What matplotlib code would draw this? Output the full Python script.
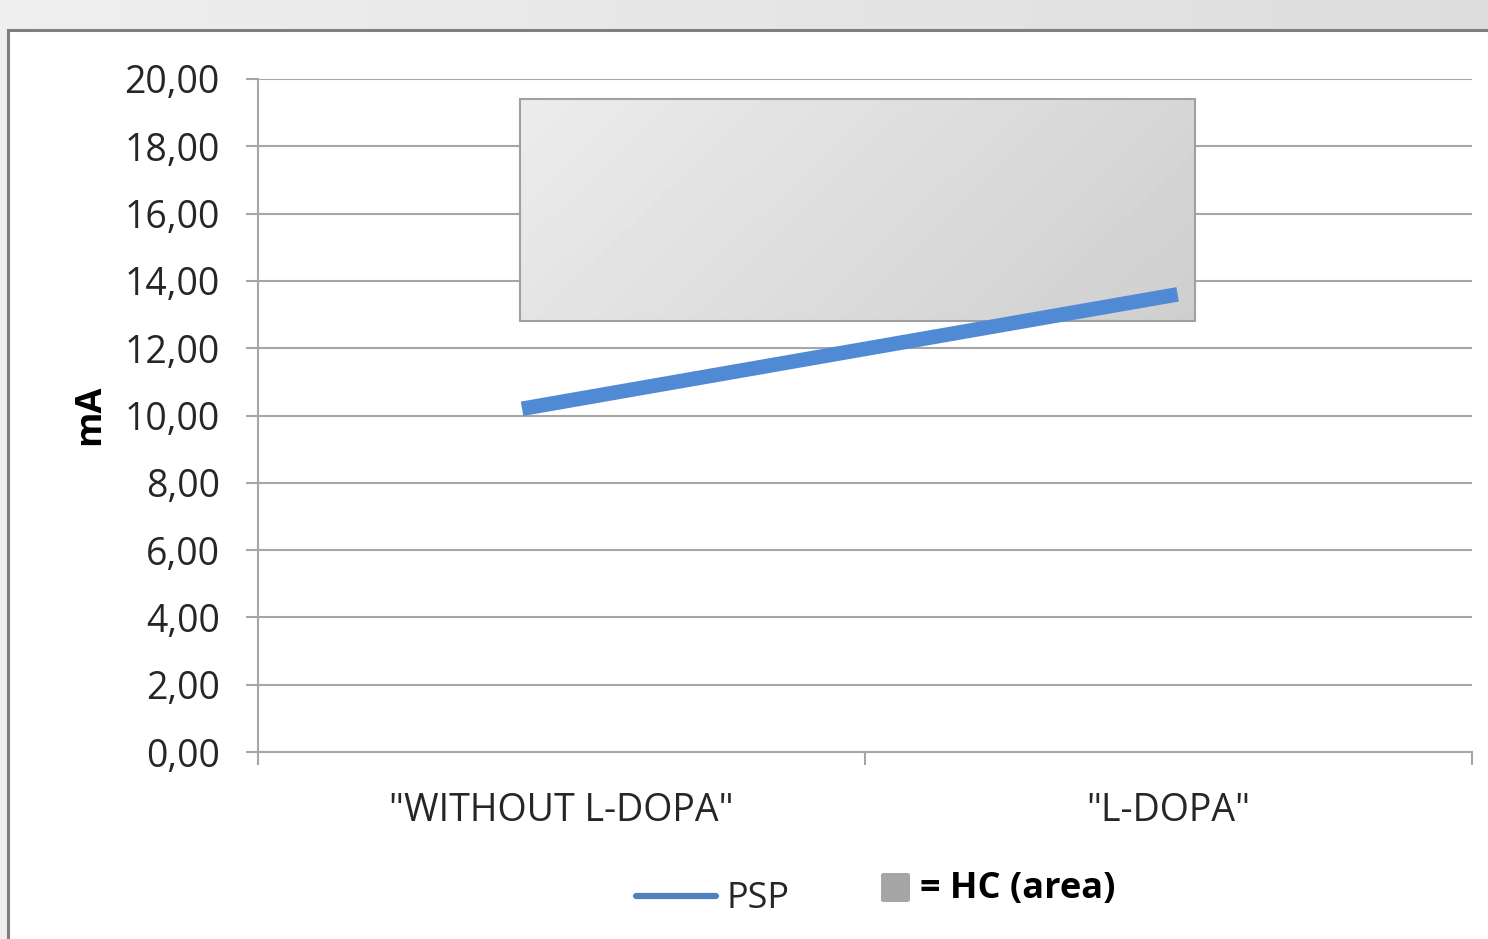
import numpy as np
import matplotlib
matplotlib.use("Agg")
import matplotlib.pyplot as plt
from matplotlib.patches import Rectangle, FancyBboxPatch
from matplotlib.lines import Line2D
from matplotlib.ticker import FuncFormatter, FixedLocator

plt.rcParams["font.family"] = ["Open Sans", "DejaVu Sans"]

# Data
categories = ['"WITHOUT L-DOPA"', '"L-DOPA"']
psp_values = [10.2, 13.6]
psp_x = [0.435, 1.515]          # x positions of the PSP line ends (category units)
hc_low, hc_high = 12.8, 19.4    # healthy-control range
hc_x = [0.432, 1.544]           # horizontal extent of the HC area
y_ticks = [0, 2, 4, 6, 8, 10, 12, 14, 16, 18, 20]

W, H = 1488, 939
fig = plt.figure(figsize=(W / 100, H / 100), dpi=100)

# Light grey backdrop with a soft gradient
bg = fig.add_axes([0, 0, 1, 1], zorder=-10)
gx = np.linspace(0, 1, 200)
grad = 0.935 - 0.07 * gx[None, :] * np.ones((10, 1))
bg.imshow(grad, cmap="gray", vmin=0, vmax=1, aspect="auto", extent=[0, 1, 0, 1])
bg.set_xlim(0, 1)
bg.set_ylim(0, 1)
bg.axis("off")
bg.add_patch(Rectangle((8 / W, -0.1), 1.2, (H - 30) / H + 0.1,
                       facecolor="white", edgecolor="#7f7f7f", linewidth=2.2,
                       transform=bg.transAxes))

grid_c = "#a6a6a6"
text_c = "#262626"
ax = fig.add_axes([258 / W, (H - 752) / H, (1472 - 258) / W, (752 - 79) / H])
ax.set_facecolor("none")
ax.set_xlim(0, 2)
ax.set_ylim(0, 20)

for s in ["top", "right"]:
    ax.spines[s].set_visible(False)
for s in ["left", "bottom"]:
    ax.spines[s].set_color(grid_c)
    ax.spines[s].set_linewidth(1.5)

ax.yaxis.set_major_locator(FixedLocator(y_ticks))
ax.yaxis.set_major_formatter(FuncFormatter(lambda v, p: f"{v:.2f}".replace(".", ",")))
ax.grid(axis="y", color=grid_c, linewidth=1.5, zorder=0)
ax.set_axisbelow(True)
ax.tick_params(axis="y", direction="out", length=8.6, width=1.5, color=grid_c,
               labelsize=27, labelcolor=text_c, pad=19)

ax.set_xticks([0, 1, 2])
ax.set_xticklabels([])
ax.set_xticks([0.5, 1.5], minor=True)
ax.set_xticklabels(categories, minor=True)
ax.tick_params(axis="x", which="major", direction="out", length=9, width=1.5, color=grid_c)
ax.tick_params(axis="x", which="minor", length=0, labelsize=27, labelcolor=text_c, pad=29)

# HC area with a diagonal grey gradient
gy, gxx = np.mgrid[0:1:50j, 0:1:200j]
shade = 0.925 - 0.115 * (0.75 * gxx + 0.25 * gy)
ax.imshow(shade, cmap="gray", vmin=0, vmax=1, aspect="auto", zorder=2,
          extent=[hc_x[0], hc_x[1], hc_low, hc_high], origin="upper", interpolation="bilinear")
ax.add_patch(Rectangle((hc_x[0], hc_low), hc_x[1] - hc_x[0], hc_high - hc_low,
                       facecolor="none", edgecolor="#a0a0a0", linewidth=1.5, zorder=3))
ax.set_xlim(0, 2)
ax.set_ylim(0, 20)

# PSP line
ax.plot(psp_x, psp_values, color="#5089d4", linewidth=10.5, solid_capstyle="butt", zorder=4)

# Axis label
fig.text(90 / W, (H - 415) / H, "mA", rotation=90, ha="center", va="center",
         fontsize=26, fontweight="bold", color="black")

# Legend
fig.add_artist(Line2D([636 / W, 716 / W], [(H - 896) / H] * 2, color="#4f81bd",
                      linewidth=4.5, solid_capstyle="round"))
fig.text(726 / W, (H - 899) / H, "PSP", ha="left", va="center", fontsize=26, color=text_c)
fig.add_artist(FancyBboxPatch((881 / W, (H - 902) / H), 29 / W, 29 / H,
                              boxstyle="round,pad=0,rounding_size=0.002",
                              facecolor="#a6a6a6", edgecolor="none", transform=fig.transFigure))
fig.text(920 / W, (H - 889) / H, "= HC (area)", ha="left", va="center", fontsize=26,
         fontweight="bold", color="black")

fig.savefig("out.png", dpi=100)
